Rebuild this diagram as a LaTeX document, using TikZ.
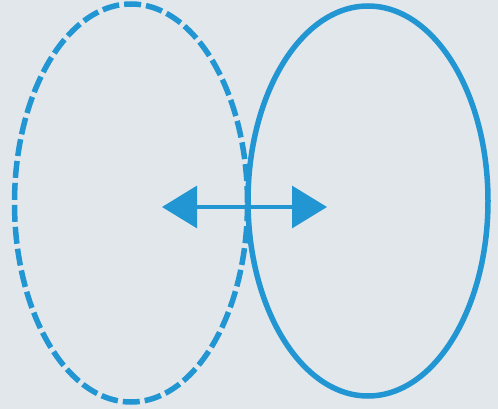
\documentclass[tikz,border=0pt]{standalone}
\usetikzlibrary{shapes.geometric,arrows.meta}
\definecolor{bg}{HTML}{E2E7EB}
\definecolor{ink}{HTML}{2196D3}
\tikzset{
  ring/.style={ellipse, draw=ink, line width=5.5pt, inner sep=0pt},
  dashring/.style={ring, dash pattern=on 17pt off 5pt},
  dblarrow/.style={draw=ink, line width=3.2pt, {Triangle[length=35pt,width=42pt]}-{Triangle[length=35pt,width=42pt]}}
}
\begin{document}
\begin{tikzpicture}[x=1pt,y=-1pt]
\fill[bg] (0,0) rectangle (498,409);
\useasboundingbox (0,0) rectangle (498,409);
\node[dashring, minimum width=233pt, minimum height=398pt] (L) at (131,203) {};
\node[ring, minimum width=240pt, minimum height=390pt] (R) at (368,201) {};
\coordinate (a) at (162,207);
\coordinate (b) at (327,207);
\draw[dblarrow] (a) -- (b);
\end{tikzpicture}
\end{document}
